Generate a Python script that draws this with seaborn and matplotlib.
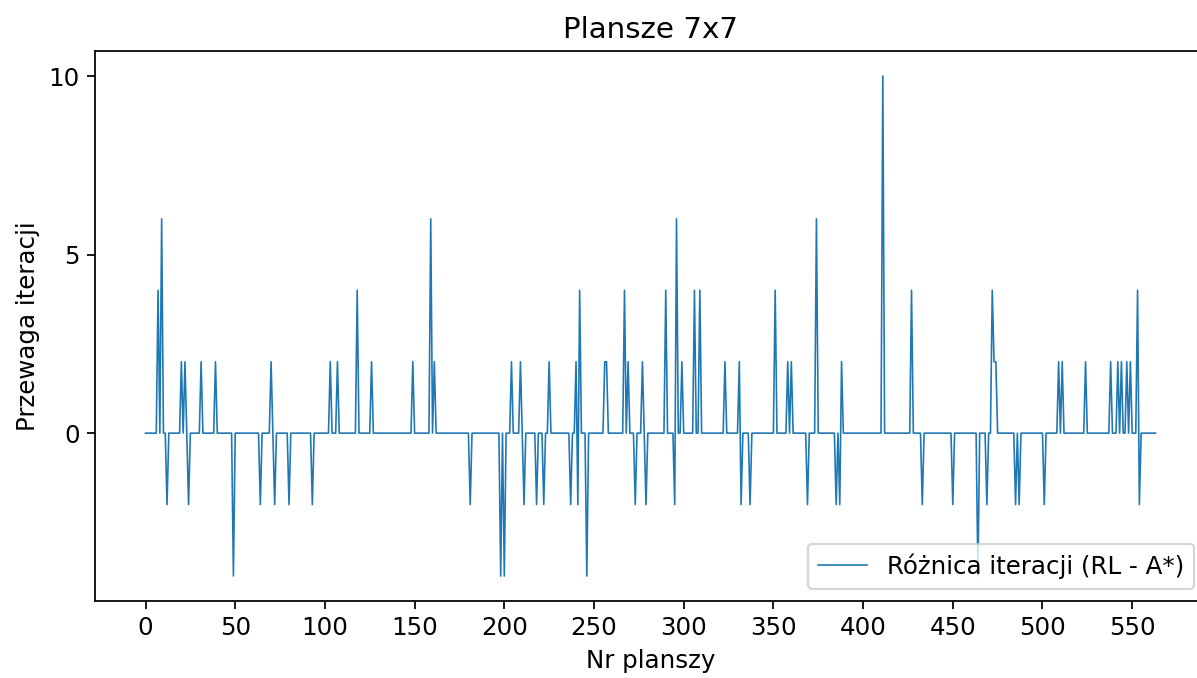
import numpy as np
import pandas as pd
import matplotlib
matplotlib.use("Agg")
import matplotlib.pyplot as plt
import seaborn as sns

# Number of boards (x runs 0..563)
n_boards = 564
# Non-zero differences (board index -> iteration difference)
spike_idx = [7, 9, 12, 20, 22, 24, 31, 39, 49,
             64, 70, 72, 80, 93,
             103, 107, 118, 126, 149,
             159, 161, 181, 198, 200,
             204, 209, 211, 218, 222, 225, 237, 240, 241, 242, 246,
             256, 257, 267, 269, 273, 277, 279, 290, 295, 296, 299,
             306, 309, 323, 331, 332, 337, 351,
             358, 360, 369, 374, 385, 387, 388,
             411, 427, 433, 450,
             464, 469, 472, 473, 474, 485, 487, 501,
             509, 511, 524, 538, 542, 544, 547, 549, 553, 554]
spike_val = [4, 6, -2, 2, 2, -2, 2, 2, -4,
             -2, 2, -2, -2, -2,
             2, 2, 4, 2, 2,
             6, 2, -2, -4, -4,
             2, 2, -2, -2, -2, 2, -2, 2, -2, 4, -4,
             2, 2, 4, 2, -2, 2, -2, 4, -2, 6, 2,
             4, 4, 2, 2, -2, -2, 4,
             2, 2, -2, 6, -2, -2, 2,
             10, 4, -2, -2,
             -4, -2, 4, 2, 2, -2, -2, -2,
             2, 2, 2, 2, 2, 2, 2, 2, 4, -2]

title = "Plansze 7x7"
xlabel = "Nr planszy"
ylabel = "Przewaga iteracji"
series_label = "Różnica iteracji (RL - A*)"

diff = np.zeros(n_boards)
diff[spike_idx] = spike_val
df = pd.DataFrame({"board": np.arange(n_boards), "diff": diff})

plt.rcParams.update({
    "font.size": 11.2,
    "axes.titlesize": 13.4,
    "axes.labelsize": 11.2,
    "xtick.labelsize": 11.2,
    "ytick.labelsize": 11.2,
    "legend.fontsize": 11.2,
})

W, H, DPI = 1197, 678, 158
fig = plt.figure(figsize=(W / DPI, H / DPI), dpi=DPI)
ax = fig.add_axes([95 / W, (H - 601) / H, (1206 - 95) / W, (601 - 51) / H])

sns.lineplot(data=df, x="board", y="diff", ax=ax, color="#1f77b4",
             linewidth=0.75, label=series_label)

ax.set_xticks(np.arange(0, 551, 50))
ax.set_yticks([0, 5, 10])
ax.set_title(title)
ax.set_xlabel(xlabel)
ax.set_ylabel(ylabel)
ax.legend(loc="lower right")

fig.savefig("out.png", dpi=DPI)
